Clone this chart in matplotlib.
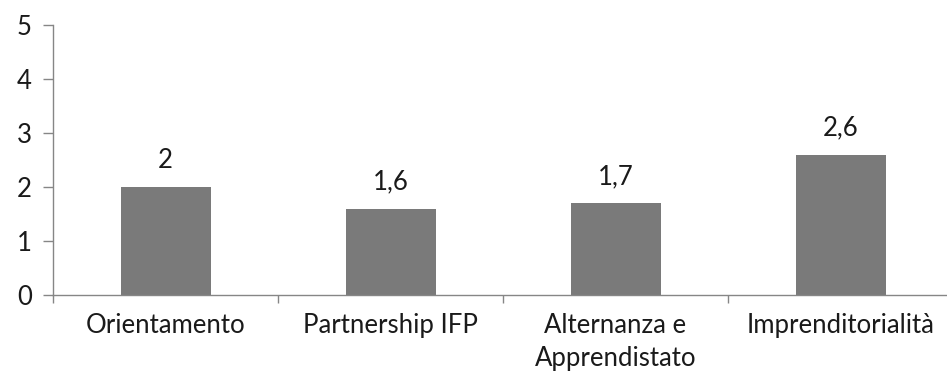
import matplotlib
matplotlib.use("Agg")
import matplotlib.pyplot as plt

categories = ["Orientamento", "Partnership IFP", "Alternanza e\nApprendistato", "Imprenditorialità"]
values = [2.0, 1.6, 1.7, 2.6]
value_labels = ["2", "1,6", "1,7", "2,6"]
yticks = [0, 1, 2, 3, 4, 5]

plt.rcParams['font.family'] = ['Lato', 'DejaVu Sans']
FS = 18.5
TXT = "#1a1a1a"
AXC = "#868686"

fig = plt.figure(figsize=(9.47, 3.76), dpi=100)
ax = fig.add_axes([53/947, 1-295/376, 900/947, 270/376])

x = list(range(len(categories)))
ax.bar(x, values, width=0.4, color="#7a7a7a", zorder=2)
for xi, v, lab in zip(x, values, value_labels):
    ax.annotate(lab, (xi, v), xytext=(0, 10), textcoords="offset points",
                ha="center", va="bottom", fontsize=FS, color=TXT)

ax.set_xlim(-0.5, len(categories) - 0.5)
ax.set_ylim(0, 5)
ax.set_yticks(yticks)
ax.set_yticklabels([str(t) for t in yticks], fontsize=FS, color=TXT)
ax.set_xticks(x)
ax.set_xticklabels(categories, fontsize=FS, color=TXT, linespacing=1.4)
ax.tick_params(axis="x", length=0, pad=13)
ax.set_xticks([i - 0.5 for i in range(len(categories) + 1)], minor=True)
ax.tick_params(axis="x", which="minor", length=6, direction="out", color=AXC, width=1)
ax.tick_params(axis="y", length=7.2, direction="out", color=AXC, width=1, pad=8)

for s in ["top", "right"]:
    ax.spines[s].set_visible(False)
for s in ["left", "bottom"]:
    ax.spines[s].set_color(AXC)
    ax.spines[s].set_linewidth(1)

fig.savefig("out.png", dpi=100)
